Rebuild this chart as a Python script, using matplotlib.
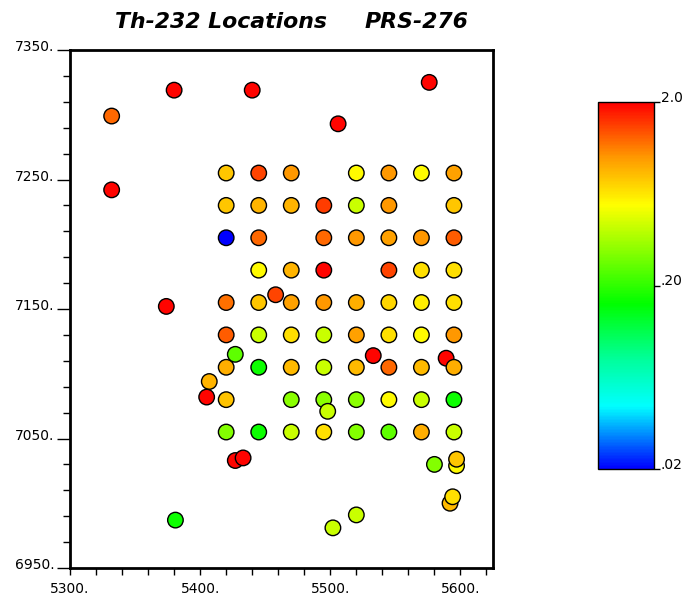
import numpy as np
import matplotlib
matplotlib.use("Agg")
import matplotlib.pyplot as plt
from matplotlib.colors import LinearSegmentedColormap, LogNorm
from matplotlib.transforms import ScaledTranslation

# ---- data (easting, northing, Th-232 value) in drawing order ----
east = [5533, 5589,
        5420, 5445, 5470, 5520, 5545, 5570, 5595,
        5420, 5445, 5470, 5495, 5520, 5545, 5595,
        5420, 5445, 5495, 5520, 5545, 5570, 5595,
        5445, 5470, 5495, 5545, 5570, 5595,
        5420, 5445, 5470, 5495, 5520, 5545, 5570, 5595,
        5420, 5445, 5470, 5495, 5520, 5545, 5570, 5595,
        5420, 5445, 5470, 5495, 5520, 5545, 5570, 5595,
        5420, 5470, 5495, 5520, 5545, 5570, 5595,
        5420, 5445, 5470, 5495, 5520, 5545, 5570, 5595,
        5332, 5380, 5440, 5506, 5576, 5332, 5374, 5407, 5405,
        5458, 5427, 5498, 5427, 5433, 5381, 5502, 5520,
        5580, 5597, 5597, 5592, 5594]
north = [7114, 7112,
         7255, 7255, 7255, 7255, 7255, 7255, 7255,
         7230, 7230, 7230, 7230, 7230, 7230, 7230,
         7205, 7205, 7205, 7205, 7205, 7205, 7205,
         7180, 7180, 7180, 7180, 7180, 7180,
         7155, 7155, 7155, 7155, 7155, 7155, 7155, 7155,
         7130, 7130, 7130, 7130, 7130, 7130, 7130, 7130,
         7105, 7105, 7105, 7105, 7105, 7105, 7105, 7105,
         7080, 7080, 7080, 7080, 7080, 7080, 7080,
         7055, 7055, 7055, 7055, 7055, 7055, 7055, 7055,
         7299, 7319, 7319, 7293, 7325, 7242, 7152, 7094, 7082,
         7161, 7115, 7071, 7033, 7035, 6987, 6981, 6991,
         7030, 7029, 7034, 7000, 7005]
th232 = [1.95, 1.95,
         0.76, 1.45, 1.0, 0.56, 1.0, 0.56, 0.95,
         0.76, 0.85, 0.85, 1.5, 0.42, 1.0, 0.76,
         0.02, 1.25, 1.25, 1.0, 0.95, 1.0, 1.3,
         0.56, 0.85, 1.95, 1.45, 0.66, 0.66,
         1.2, 0.76, 0.95, 1.0, 0.88, 0.7, 0.6, 0.66,
         1.3, 0.42, 0.66, 0.42, 0.95, 0.66, 0.56, 1.0,
         0.88, 0.17, 0.82, 0.42, 0.82, 1.25, 0.82, 0.88,
         0.78, 0.31, 0.31, 0.31, 0.56, 0.42, 0.17,
         0.30, 0.17, 0.42, 0.66, 0.30, 0.25, 0.88, 0.42,
         1.25, 1.95, 1.95, 1.95, 1.95, 1.95, 1.95, 0.85, 1.95,
         1.45, 0.25, 0.42, 1.95, 1.95, 0.17, 0.42, 0.42,
         0.30, 0.56, 0.76, 0.82, 0.66]

x_label_vals = [5300, 5400, 5500, 5600]
x_labels = ['5300.', '5400.', '5500.', '5600.']
y_label_vals = [6950, 7050, 7150, 7250, 7350]
y_labels = ['6950.', '7050.', '7150.', '7250.', '7350.']
cb_vals = [0.02, 0.20, 2.0]
cb_labels = ['.02', '.20', '2.0']
title_left = 'Th-232 Locations'
title_right = 'PRS-276'

plt.rcParams['font.family'] = ['DejaVu Sans']

cmap = LinearSegmentedColormap.from_list('th', [
    (0.00, (0.0, 0.0, 1.0)),
    (0.17, (0.0, 1.0, 1.0)),
    (0.30, (0.0, 1.0, 0.6)),
    (0.45, (0.0, 1.0, 0.0)),
    (0.72, (1.0, 1.0, 0.0)),
    (0.85, (1.0, 0.6, 0.0)),
    (1.00, (1.0, 0.0, 0.0)),
])
norm = LogNorm(vmin=0.02, vmax=2.0)

fig = plt.figure(figsize=(6.89, 6.01), dpi=100)
ax = fig.add_axes([70/689, 33/601, 423/689, 518/601])

sc = ax.scatter(east, north, c=th232, cmap=cmap, norm=norm, s=125,
                edgecolors='black', linewidths=1.0, zorder=3)

ax.set_xlim(5300, 5625)
ax.set_ylim(6950, 7350)
for sp in ax.spines.values():
    sp.set_linewidth(2.0)

ax.set_xticks(x_label_vals)
ax.set_xticklabels(x_labels)
ax.set_xticks(np.arange(5300, 5621, 20), minor=True)
ax.set_yticks(y_label_vals)
ax.set_yticklabels(y_labels)
ax.set_yticks(np.arange(6950, 7351, 20), minor=True)
ax.tick_params(axis='x', which='both', direction='out', length=5, width=1, labelsize=10, pad=5)
ax.tick_params(axis='y', which='major', direction='out', length=9.5, width=1, labelsize=10, pad=1.5)
ax.tick_params(axis='y', which='minor', direction='out', length=5, width=1)
off = ScaledTranslation(0, 3/72, fig.dpi_scale_trans)
for lab in ax.get_yticklabels():
    lab.set_transform(lab.get_transform() + off)

fig.text(115/689, 1 - 28/601, title_left, fontsize=15.8, fontweight='bold',
         style='italic', va='baseline', ha='left')
fig.text(365/689, 1 - 28/601, title_right, fontsize=15.8, fontweight='bold',
         style='italic', va='baseline', ha='left')

cax = fig.add_axes([598/689, 132/601, 56/689, 367/601])
cb = fig.colorbar(sc, cax=cax)
cb.ax.minorticks_off()
cb.set_ticks(cb_vals)
cb.set_ticklabels(cb_labels)
cb.ax.tick_params(length=4, width=1, labelsize=10, pad=1)
cb.outline.set_linewidth(1.0)
off2 = ScaledTranslation(0, 4/72, fig.dpi_scale_trans)
for lab in cb.ax.get_yticklabels():
    lab.set_transform(lab.get_transform() + off2)

fig.savefig('out.png', dpi=100)
